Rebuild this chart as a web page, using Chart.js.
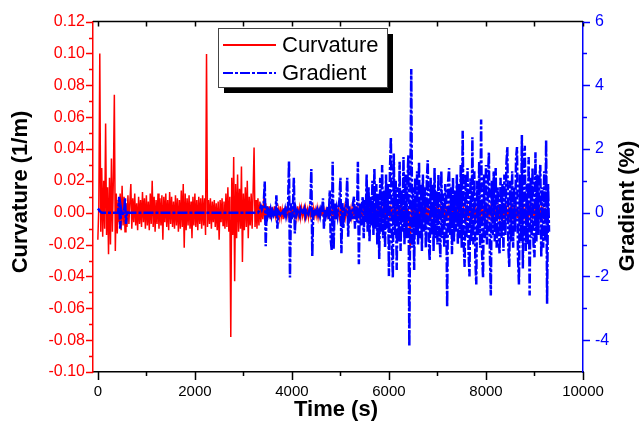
<!DOCTYPE html>
<html>
<head>
<meta charset="utf-8">
<script src="https://cdn.jsdelivr.net/npm/chart.js@4"></script>
<style>
  html, body { margin: 0; padding: 0; background: #fff; }
  #wrap { width: 640px; height: 425px; position: relative; }
</style>
</head>
<body>
<div id="wrap"><canvas id="chart"></canvas></div>
<script>
const step = 20; // sampling interval (s)

// curvature (1/m), 0 - 3580 s
const curvEarly = [
  -0.017, 0.004, 0.100, -0.012, 0.028, -0.015, 0.020, -0.010, 0.056, -0.014,
  0.016, -0.026, 0.022, -0.020, 0.034, -0.012, 0.022, 0.074, -0.024, 0.012,
  -0.013, 0.008, -0.006, 0.012, -0.011, 0.017, -0.008, 0.010, -0.012, 0.006,
  -0.009, 0.011, -0.007, 0.007, 0.018, -0.010, 0.009, -0.006, 0.012, -0.008,
  0.006, -0.011, 0.010, -0.007, 0.008, -0.009, 0.013, -0.006, 0.009, -0.010,
  0.011, -0.008, 0.007, -0.011, 0.012, -0.007, 0.020, -0.009, 0.010, -0.012,
  0.008, -0.007, 0.012, -0.010, 0.009, -0.008, 0.011, -0.017, 0.010, -0.006,
  0.012, -0.009, 0.008, -0.011, 0.013, -0.007, 0.010, -0.009, 0.007, -0.010,
  0.011, -0.008, 0.009, -0.012, 0.008, -0.010, 0.014, -0.009, 0.018, -0.022,
  0.012, -0.011, 0.009, -0.008, 0.011, -0.010, 0.007, -0.016, 0.010, -0.008,
  0.012, -0.009, 0.008, -0.011, 0.010, -0.007, 0.009, -0.010, 0.011, -0.008,
  0.009, -0.014, 0.0996, -0.009, 0.008, -0.007, 0.009, -0.010, 0.007, -0.006,
  0.008, -0.009, 0.006, -0.011, 0.007, -0.017, 0.008, -0.006, 0.009, -0.008,
  0.007, -0.010, 0.012, -0.009, 0.016, -0.012, 0.010, -0.078, 0.022, -0.014,
  0.035, -0.043, 0.018, -0.016, 0.024, -0.012, 0.015, -0.010, 0.029, -0.031,
  0.012, -0.011, 0.016, -0.009, 0.020, -0.016, 0.010, -0.008, 0.012, -0.010,
  0.013, 0.041, -0.009, 0.008, -0.010, 0.009, -0.008, 0.007, -0.006, 0.005,
  -0.004, 0.009, -0.005, 0.006, -0.004, 0.004, -0.003, 0.004, -0.004, 0.003
];

// curvature (1/m), 3600 - 9300 s
const curvLate = [
  0.003, -0.003, 0.004, -0.002, 0.003, -0.004, 0.002, -0.003, 0.004, -0.003,
  0.002, -0.004, 0.003, -0.003, 0.004, -0.002, 0.003, -0.003, 0.002, -0.004,
  0.004, -0.003, 0.003, -0.004, 0.002, -0.003, 0.004, -0.002, 0.003, -0.003,
  0.003, -0.002, 0.002, -0.003, 0.003, -0.002, 0.002, -0.003, 0.003, -0.002,
  0.002, -0.003, 0.003, -0.002, 0.002, -0.002, 0.003, -0.003, 0.002, -0.002,
  0.002, -0.002, 0.003, -0.002, 0.002, -0.001, 0.002, -0.002, 0.001, -0.002,
  0.002, -0.002, 0.003, -0.003, 0.002, -0.002, 0.003, -0.002, 0.002, -0.003,
  0.003, -0.002, 0.002, -0.003, 0.003, -0.003, 0.002, -0.002, 0.003, -0.003,
  0.002, -0.003, 0.003, -0.002, 0.003, -0.003, 0.002, -0.002, 0.003, -0.002,
  0.003, -0.003, 0.002, -0.002, 0.003, -0.003, 0.002, -0.003, 0.003, -0.002,
  0.002, -0.002, 0.003, -0.003, 0.002, -0.003, 0.003, -0.002, 0.002, -0.003,
  0.003, -0.002, 0.002, -0.003, 0.003, -0.002, 0.002, -0.003, 0.003, -0.002,
  0.002, -0.003, 0.003, -0.002, 0.002, -0.003, 0.003, -0.002, 0.003, -0.003,
  0.002, -0.002, 0.003, -0.003, 0.002, -0.002, 0.003, -0.003, 0.002, -0.003,
  0.003, -0.011, -0.023, 0.004, -0.003, 0.002, -0.003, 0.003, -0.002, 0.002,
  -0.003, 0.003, -0.002, 0.002, -0.003, 0.003, -0.002, 0.002, -0.003, 0.003,
  -0.002, 0.003, -0.003, 0.002, -0.002, 0.003, -0.003, 0.002, -0.002, 0.003,
  -0.003, 0.002, -0.002, 0.003, -0.003, 0.002, -0.002, 0.003, -0.003, 0.002,
  -0.002, 0.003, -0.003, 0.002, -0.002, 0.003, -0.003, 0.002, -0.002, 0.003,
  -0.003, 0.002, -0.003, 0.003, -0.002, 0.002, -0.003, 0.003, -0.002, 0.002,
  -0.003, 0.003, -0.002, 0.002, -0.003, 0.003, -0.002, 0.003, -0.003, 0.002,
  -0.002, 0.003, -0.003, 0.002, -0.003, 0.003, -0.002, 0.002, -0.003, 0.003,
  -0.002, 0.002, -0.003, 0.003, -0.002, 0.003, -0.003, 0.002, -0.002, 0.003,
  -0.003, 0.002, -0.002, 0.003, -0.003, 0.002, -0.003, 0.003, -0.002, 0.002,
  -0.003, 0.003, -0.002, 0.002, -0.003, 0.003, -0.002, 0.003, -0.003, 0.002,
  -0.002, 0.003, -0.003, 0.002, -0.004, 0.003, -0.002, 0.002, -0.003, 0.003,
  -0.002, 0.002, -0.003, 0.003, -0.002, 0.003, -0.003, 0.002, -0.002, 0.003,
  -0.003, 0.002, -0.003, 0.003, -0.002, 0.002, -0.003, 0.003, -0.002, 0.002,
  -0.003, 0.003, -0.004, 0.002, -0.005, -0.005
];

// gradient (%), 0 - 3380 s
const gradFlat = [
  0.13, 0.1, 0.05, 0.02, 0, 0, 0, 0, 0, 0,
  0, 0, 0, 0, 0, 0, 0, 0, 0, 0,
  0, 0, 0.5, -0.5, 0.1, -0.1, 0, 0, 0.45, -0.35,
  0.05, 0, 0, 0, 0, 0, 0, 0, 0, 0,
  0, 0, 0, 0, 0, 0, 0, 0, 0, 0,
  0, 0, 0, 0, 0, 0, 0, 0, 0, 0,
  0, 0, 0, 0, 0, 0, 0, 0, 0, 0,
  0, 0, 0, 0, 0, 0, 0, 0, 0, 0,
  0, 0, 0, 0, 0, 0, 0, 0, 0, 0,
  0, 0, 0, 0, 0, 0, 0, 0, 0, 0,
  0, 0, 0, 0, 0, 0, 0, 0, 0, 0,
  0, 0, 0, 0, 0, 0, 0, 0, 0, 0,
  0, 0, 0, 0, 0, 0, 0, 0, 0, 0,
  0, 0, 0, 0, 0, 0, 0, 0, 0, 0,
  0, 0, 0, 0, 0, 0, 0, 0, 0, 0,
  0, 0, 0, 0, 0, 0, 0, 0, 0, 0,
  0, 0, 0, 0, 0, 0, 0.05, 0.1, 0.2, 0.1
];

// gradient (%), 3400 - 5480 s
const gradSparse = [
  0.2, 0.3, 0.98, -1.05, 0.2, -0.1, 0.05, -0.05, 0.1, -0.1,
  0.05, -0.05, 0.1, -0.1, 0.55, -0.5, 0.05, 0, -0.05, 0.05,
  0, 0.05, -0.05, 0.1, -0.1, 0.05, 0.2, 1.62, -2.03, 0.3,
  -0.2, 0.1, 1.1, -0.65, 0.1, -0.05, 0.05, 0, -0.1, 0.1,
  0, 0.05, -0.05, 0.1, -0.1, 0.05, 0, -0.05, 0.1, 0.2,
  1.37, -1.36, 0.1, -0.1, 0.05, 0, 0.1, -0.05, 0.05, -0.1,
  0.1, 0, 0.45, -0.5, 0.1, -0.1, 0.05, 0.2, -0.2, 0.7,
  -0.85, -1.17, 1.6, -1.14, 0.3, -0.2, 0.1, -0.1, 0.2, 0.4,
  1.1, -1.27, 0.3, -0.5, 0.2, -0.1, 0.3, 1.1, -0.75, 0.2,
  -0.3, 0.1, -0.2, 0.3, 0.5, -0.5, 0.2, -0.3, 1.6, -1.62,
  0.3, -0.4, 0.2, 0.5, -0.8
];

// gradient (%), 5500 - 9300 s
const gradDense = [
  0.4, -0.3, 1.2, -0.6, 0.8, -0.9, 0.5, -0.4, 1.0, -0.7,
  1.4, -0.5, 0.9, -1.0, 0.6, -1.45, 1.1, -0.6, 1.5, -0.8,
  0.7, -1.1, 1.2, -0.5, 0.9, -1.99, 1.3, 2.37, -0.9, -2.04,
  1.86, -0.7, 1.0, -1.8, 0.8, -0.9, 1.6, -1.2, 0.7, -0.6,
  1.75, -1.0, 1.2, -0.8, 0.9, 1.8, -4.19, 0.6, 4.51, -1.1,
  0.8, -1.8, 1.1, -0.7, 1.3, -1.0, 1.6, -0.8, 0.9, -1.2,
  1.2, -0.6, 0.8, -1.1, 1.0, 1.65, -0.9, -1.5, 1.1, -0.7,
  0.9, -1.2, 1.4, -0.8, 0.7, -1.0, 1.2, -0.6, -1.4, 1.3,
  -0.8, 0.6, -1.1, 0.9, 0.5, -2.96, 1.0, 1.4, -0.7, 0.8,
  -1.3, 1.1, -0.9, 0.7, -0.6, 1.2, -1.0, 0.9, -0.8, 1.5,
  -1.1, 2.57, -0.9, -1.7, 1.2, -0.8, 1.4, -1.2, -2.0, 1.1,
  -0.9, 2.37, -1.0, 1.3, -1.4, -2.25, 1.0, -0.7, 1.6, -1.1,
  2.93, -1.3, -2.05, 1.2, -0.8, 1.5, -1.0, 0.9, 1.9, -1.2,
  -2.6, 1.0, -0.7, 1.3, -0.9, 1.4, -1.1, 0.8, -0.6, -1.3,
  1.1, -0.8, 0.9, -1.2, 1.2, -0.7, 1.5, 2.06, -1.0, -1.7,
  1.0, -0.9, 1.3, -1.1, 0.8, -0.6, 1.7, 2.06, -1.4, -2.25,
  1.2, -0.9, 2.44, -1.75, 1.3, 2.1, -1.2, 0.9, -1.0, 1.75,
  -2.6, 1.1, -0.8, 1.4, -1.0, -1.4, 1.9, -0.9, 1.2, -0.7,
  1.0, 1.5, -1.4, 0.8, -1.1, 1.3, -0.9, 2.28, -2.86, 0.9,
  -0.6
];

const timeTicks = [0, 2000, 4000, 6000, 8000, 10000];
const curvTicks = [-0.10, -0.08, -0.06, -0.04, -0.02, 0.00, 0.02, 0.04, 0.06, 0.08, 0.10, 0.12];
const gradTicks = [-4, -2, 0, 2, 4, 6];

const curvature = curvEarly.concat(curvLate);
const gradient = gradFlat.concat(gradSparse, gradDense);
const times = curvature.map((_, i) => i * step);

const RED = "rgb(255,0,0)";
const BLUE = "rgb(0,0,255)";
const FONT = "'Liberation Sans', Arial, sans-serif";

// tick marks (major + minor), top frame line
const axisMarks = {
  id: "axisMarks",
  afterDraw(chart) {
    const { ctx, chartArea: a } = chart;
    const sx = chart.scales.x, sy = chart.scales.y, sg = chart.scales.y2;
    ctx.save();
    ctx.lineWidth = 1.5;
    ctx.strokeStyle = "#000";
    ctx.beginPath();
    ctx.moveTo(a.left, a.top);
    ctx.lineTo(a.right, a.top);
    ctx.stroke();
    for (let t = 0; t <= 10000; t += 1000) {
      const px = Math.round(sx.getPixelForValue(t)) + 0.5;
      const len = t % 2000 === 0 ? 8 : 4;
      ctx.beginPath();
      ctx.moveTo(px, a.bottom);
      ctx.lineTo(px, a.bottom + len);
      ctx.moveTo(px, a.top);
      ctx.lineTo(px, a.top + 5);
      ctx.stroke();
    }
    ctx.strokeStyle = RED;
    for (let i = -10; i <= 12; i++) {
      const py = Math.round(sy.getPixelForValue(i / 100)) + 0.5;
      const len = i % 2 === 0 ? 7 : 4;
      ctx.beginPath();
      ctx.moveTo(a.left, py);
      ctx.lineTo(a.left - len, py);
      ctx.stroke();
    }
    ctx.strokeStyle = BLUE;
    for (let v = -4; v <= 6; v++) {
      const py = Math.round(sg.getPixelForValue(v)) + 0.5;
      const len = v % 2 === 0 ? 7 : 4;
      ctx.beginPath();
      ctx.moveTo(a.right, py);
      ctx.lineTo(a.right + len, py);
      ctx.stroke();
    }
    ctx.restore();
  }
};

// axis titles
const axisTitles = {
  id: "axisTitles",
  afterDraw(chart) {
    const ctx = chart.ctx;
    ctx.save();
    ctx.fillStyle = "#000";
    ctx.font = "bold 22px " + FONT;
    ctx.textAlign = "center";
    ctx.textBaseline = "middle";
    ctx.fillText("Time (s)", 336, 410);
    ctx.translate(21, 192);
    ctx.rotate(-Math.PI / 2);
    ctx.fillText("Curvature (1/m)", 0, 0);
    ctx.restore();
    ctx.save();
    ctx.fillStyle = "#000";
    ctx.font = "bold 22px " + FONT;
    ctx.textAlign = "center";
    ctx.textBaseline = "middle";
    ctx.translate(628, 206);
    ctx.rotate(-Math.PI / 2);
    ctx.fillText("Gradient (%)", 0, 0);
    ctx.restore();
  }
};

// framed legend with drop shadow
const legendBox = {
  id: "legendBox",
  afterDraw(chart) {
    const ctx = chart.ctx;
    const x = 218, y = 28, w = 169, h = 59;
    ctx.save();
    ctx.fillStyle = "#000";
    ctx.fillRect(x + 6, y + 6, w, h);
    ctx.fillStyle = "#fff";
    ctx.fillRect(x, y, w, h);
    ctx.strokeStyle = "#444";
    ctx.lineWidth = 1;
    ctx.strokeRect(x + 0.5, y + 0.5, w, h);
    chart.data.datasets.forEach((ds, i) => {
      const ly = 45 + i * 28;
      ctx.strokeStyle = ds.borderColor;
      ctx.lineWidth = 2;
      ctx.setLineDash(ds.borderDash || []);
      ctx.beginPath();
      ctx.moveTo(223, ly);
      ctx.lineTo(276, ly);
      ctx.stroke();
      ctx.setLineDash([]);
      ctx.fillStyle = "#000";
      ctx.font = "22px " + FONT;
      ctx.textAlign = "left";
      ctx.textBaseline = "middle";
      ctx.fillText(ds.label, 282, ly + 1);
    });
    ctx.restore();
  }
};

const data = {
  datasets: [
    {
      label: "Curvature",
      data: curvature.map((v, i) => ({ x: times[i], y: v })),
      yAxisID: "y",
      borderColor: RED,
      borderWidth: 1.5,
      pointRadius: 0,
      tension: 0,
      order: 1
    },
    {
      label: "Gradient",
      data: gradient.map((v, i) => ({ x: times[i], y: v })),
      yAxisID: "y2",
      borderColor: BLUE,
      borderWidth: 2.5,
      borderDash: [10, 2, 3, 2],
      pointRadius: 0,
      tension: 0,
      order: 0
    }
  ]
};

const config = {
  type: "line",
  data: data,
  options: {
    responsive: true,
    maintainAspectRatio: false,
    animation: false,
    layout: { padding: { top: 13, left: 0, right: 0, bottom: 0 } },
    plugins: {
      legend: { display: false },
      tooltip: { enabled: false }
    },
    scales: {
      x: {
        type: "linear",
        position: "bottom",
        min: -100,
        max: 10000,
        afterFit: (s) => { s.height = 53; },
        afterBuildTicks: (s) => { s.ticks = timeTicks.map((v) => ({ value: v })); },
        grid: { display: false, drawTicks: false },
        border: { display: true, color: "#000", width: 1.5 },
        ticks: {
          color: "#000",
          font: { family: FONT, size: 15 },
          padding: 11,
          maxRotation: 0,
          autoSkip: false,
          callback: (v) => String(v)
        }
      },
      y: {
        position: "left",
        min: -0.10,
        max: 0.12,
        afterFit: (s) => { s.width = 93; },
        afterBuildTicks: (s) => { s.ticks = curvTicks.map((v) => ({ value: v })); },
        grid: { display: false, drawTicks: false },
        border: { display: true, color: RED, width: 1.5 },
        ticks: {
          color: RED,
          font: { family: FONT, size: 16 },
          padding: 8,
          autoSkip: false,
          callback: (v) => Number(v).toFixed(2)
        }
      },
      y2: {
        position: "right",
        min: -5,
        max: 6,
        afterFit: (s) => { s.width = 57; },
        afterBuildTicks: (s) => { s.ticks = gradTicks.map((v) => ({ value: v })); },
        grid: { display: false, drawTicks: false },
        border: { display: true, color: BLUE, width: 1.5 },
        ticks: {
          color: BLUE,
          font: { family: FONT, size: 16 },
          padding: 12,
          autoSkip: false,
          callback: (v) => String(v)
        }
      }
    }
  },
  plugins: [axisMarks, axisTitles, legendBox]
};

let ctx = document.getElementById("chart");
const dualChart = new Chart(ctx, config);
</script>
</body>
</html>
